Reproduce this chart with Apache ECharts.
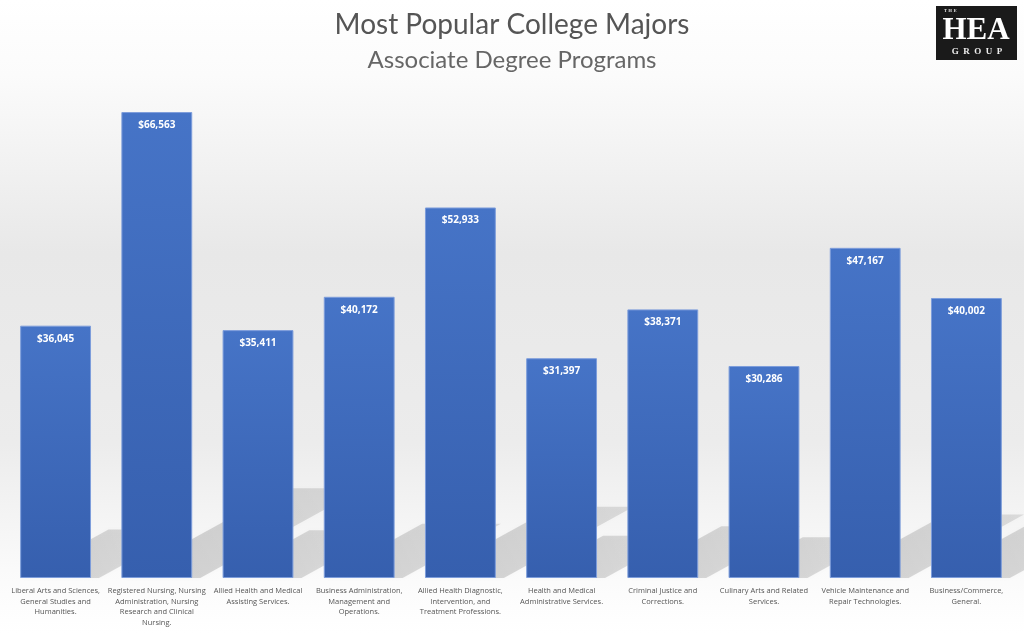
<!DOCTYPE html>
<html lang="en">
<head>
<meta charset="UTF-8">
<title>Most Popular College Majors</title>
<script src="https://cdn.jsdelivr.net/npm/echarts@6/dist/echarts.min.js"></script>
<style>
  html, body { margin: 0; padding: 0; background: #fff; }
  #main { width: 1024px; height: 633px; }
</style>
</head>
<body>
<div id="main"></div>
<script>
// majors, with the line breaks used under each bar
var majors = [
  'Liberal Arts and Sciences,\nGeneral Studies and\nHumanities.',
  'Registered Nursing, Nursing\nAdministration, Nursing\nResearch and Clinical\nNursing.',
  'Allied Health and Medical\nAssisting Services.',
  'Business Administration,\nManagement and\nOperations.',
  'Allied Health Diagnostic,\nIntervention, and\nTreatment Professions.',
  'Health and Medical\nAdministrative Services.',
  'Criminal Justice and\nCorrections.',
  'Culinary Arts and Related\nServices.',
  'Vehicle Maintenance and\nRepair Technologies.',
  'Business/Commerce,\nGeneral.'
];
var earnings = [36045, 66563, 35411, 40172, 52933, 31397, 38371, 30286, 47167, 40002];

var myChart = echarts.init(document.getElementById('main'));

var option = {
  backgroundColor: new echarts.graphic.LinearGradient(0, 0, 0, 1, [
    {offset: 0, color: '#ffffff'},
    {offset: 0.12, color: '#fbfbfb'},
    {offset: 0.4, color: '#e8e8e8'},
    {offset: 0.7, color: '#ececec'},
    {offset: 0.9, color: '#fafafa'},
    {offset: 1, color: '#ffffff'}
  ]),
  title: [
    {text: 'Most Popular College Majors', left: 'center', top: 6,
      textStyle: {fontFamily: 'Lato', fontSize: 28, fontWeight: 'normal', color: '#555'}},
    {text: 'Associate Degree Programs', left: 'center', top: 43,
      textStyle: {fontFamily: 'Lato', fontSize: 24, fontWeight: 'normal', color: '#666'}}
  ],
  graphic: [
    {type: 'rect', shape: {x: 936, y: 6, width: 81, height: 54}, style: {fill: '#1a1a1a'}},
    {type: 'text', x: 944, y: 9, style: {text: 'T H E', fill: '#ddd', font: 'bold 4px "DejaVu Serif"'}},
    {type: 'text', x: 976, y: 31, style: {text: 'HEA', fill: '#fff', align: 'center', verticalAlign: 'middle',
      font: 'bold 31px "Liberation Serif"'}},
    {type: 'text', x: 977, y: 52, style: {text: 'G  R  O  U  P', fill: '#eee', align: 'center', verticalAlign: 'middle',
      font: 'bold 9px "Liberation Serif"'}}
  ],
  grid: {left: 5, right: 7, top: 88, bottom: 55},
  xAxis: {
    type: 'category',
    data: majors,
    axisLine: {show: false},
    axisTick: {show: false},
    axisLabel: {interval: 0, color: '#555', fontSize: 7.5, lineHeight: 10.5, margin: 8,
      fontFamily: 'Open Sans'}
  },
  yAxis: {type: 'value', min: 0, max: 70000, show: false, splitLine: {show: false}},
  series: [
    {
      // diagonal floor shadows behind bars
      type: 'custom',
      z: 1,
      silent: true,
      data: earnings,
      renderItem: function (params, api) {
        var base = api.coord([api.value(0), 0]);
        var top = api.coord([api.value(0), api.value(1)]);
        var w = api.size([1, 0])[0] * 0.7;
        var x0 = base[0] - w / 2, x1 = base[0] + w / 2 + 8, y = base[1];
        var L = (base[1] - top[1]) * 0.35, s = 0.55;
        return {
          type: 'polygon',
          shape: {points: [[x0, y], [x1, y], [x1 + L, y - L * s], [x0 + L, y - L * s]]},
          style: {
            fill: new echarts.graphic.LinearGradient(0, 1, 1, 0, [
              {offset: 0, color: 'rgba(0,0,0,0.17)'},
              {offset: 1, color: 'rgba(0,0,0,0.1)'}
            ]),
            shadowBlur: 4,
            shadowColor: 'rgba(0,0,0,0.12)'
          }
        };
      },
      encode: {x: 0, y: 1}
    },
    {
      type: 'bar',
      z: 2,
      data: earnings,
      barCategoryGap: '30%',
      itemStyle: {
        color: new echarts.graphic.LinearGradient(0, 0, 0, 1, [
          {offset: 0, color: '#4674c7'},
          {offset: 1, color: '#365fae'}
        ]),
        borderColor: '#7d9ddb',
        borderWidth: 1
      },
      label: {
        show: true,
        position: 'insideTop',
        distance: 8,
        color: '#fff',
        fontWeight: 'bold',
        fontSize: 10,
        fontFamily: 'Open Sans',
        formatter: function (p) { return '$' + p.value.toLocaleString('en-US'); }
      }
    }
  ]
};

myChart.setOption(option);
</script>
</body>
</html>
